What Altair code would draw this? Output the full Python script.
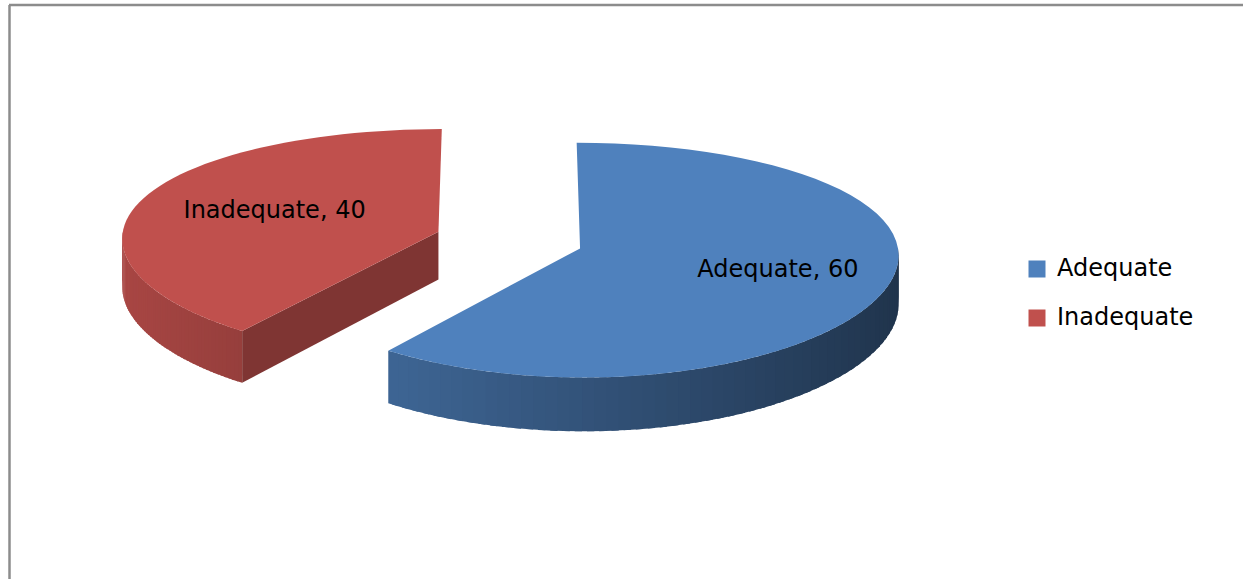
import altair as alt
import pandas as pd

# ---- data ----
categories = ["Adequate", "Inadequate"]
values = [60, 40]
colors = ["#4F81BD", "#C0504D"]

# ---- layout / projection parameters ----
W, H = 1243, 579
X0, Y0 = 509, 240      # screen position of the un-exploded pie centre
RX, RY = 316.8, 114.5  # ellipse radii
KX, KY = 0.05, 0.1     # perspective strength (horizontal / vertical)
D = 48                 # thickness of the pie
E = 0.235              # explosion (fraction of radius)
N = 60                 # samples along arcs
LABEL_R = 0.6
LABEL_DX = 14
FONT = "DejaVu Sans"


def hex_rgb(h):
    h = h.lstrip("#")
    return [int(h[i:i + 2], 16) for i in (0, 2, 4)]


rgb = [hex_rgb(c) for c in colors]
df = pd.DataFrame({
    "category": categories,
    "value": values,
    "ord": list(range(len(categories))),
    "r": [c[0] for c in rgb],
    "g": [c[1] for c in rgb],
    "b": [c[2] for c in rgb],
    "topcol": colors,
})


def X_expr(u, v):
    return f"{X0} + {RX}*({u})/(1 + {KX}*({v}))"


def Y_expr(v, h):
    return f"{Y0} + (-{RY}*({v}) + {D}*({h}))/(1 + {KY}*({v}))"


def shade_expr(f):
    return ("'rgb(' + round(datum.r*(" + f + ")) + ',' + round(datum.g*(" + f +
            ")) + ',' + round(datum.b*(" + f + ")) + ')'")


xenc = alt.X("X:Q", scale=alt.Scale(domain=[0, W], nice=False, zero=False), axis=None)
yenc = alt.Y("Y:Q", scale=alt.Scale(domain=[0, H], nice=False, zero=False, reverse=True), axis=None)


def base():
    return (
        alt.Chart(df)
        .transform_joinaggregate(total="sum(value)")
        .transform_window(cum="sum(value)", sort=[alt.SortField("ord")], frame=[None, 0])
        .transform_calculate(a0="2*PI*(datum.cum - datum.value)/datum.total")
        .transform_calculate(a1="2*PI*datum.cum/datum.total")
        .transform_calculate(am="(datum.a0 + datum.a1)/2")
        .transform_calculate(ex=f"{E}*sin(datum.am)")
        .transform_calculate(ey=f"{E}*cos(datum.am)")
    )


# curved outer wall, drawn as thin shaded strips
wall = (
    base()
    .transform_calculate(w0="max(datum.a0, PI/2)")
    .transform_calculate(w1="min(datum.a1, 3*PI/2)")
    .transform_filter("datum.w1 > datum.w0")
    .transform_calculate(s=f"sequence(0, {N})")
    .transform_flatten(["s"])
    .transform_calculate(c="sequence(0, 4)")
    .transform_flatten(["c"])
    .transform_calculate(tA=f"datum.w0 + (datum.w1 - datum.w0)*datum.s/{N}")
    .transform_calculate(tB=f"min(datum.w1, datum.w0 + (datum.w1 - datum.w0)*(datum.s + 1.6)/{N})")
    .transform_calculate(t="(datum.c == 0 || datum.c == 3) ? datum.tA : datum.tB")
    .transform_calculate(h="datum.c >= 2 ? 1 : 0")
    .transform_calculate(tm="(datum.tA + datum.tB)/2")
    .transform_calculate(f="0.64 - 0.24*sin(datum.tm)")
    .transform_calculate(wc=shade_expr("datum.f"))
    .transform_calculate(u="datum.ex + sin(datum.t)")
    .transform_calculate(v="datum.ey + cos(datum.t)")
    .transform_calculate(X=X_expr("datum.u", "datum.v"))
    .transform_calculate(Y=Y_expr("datum.v", "datum.h"))
    .transform_calculate(key="datum.category + '-' + datum.s")
    .mark_line(filled=True, strokeWidth=0)
    .encode(x=xenc, y=yenc, order=alt.Order("c:Q"), detail="key:N",
            fill=alt.Fill("wc:N", scale=None))
)

# radial cut face (visible for the slice whose start edge faces the viewer)
face = (
    base()
    .transform_filter("sin(datum.a0) < -0.01")
    .transform_calculate(c="sequence(0, 4)")
    .transform_flatten(["c"])
    .transform_calculate(rr="(datum.c == 1 || datum.c == 2) ? 1 : 0")
    .transform_calculate(h="datum.c >= 2 ? 1 : 0")
    .transform_calculate(u="datum.ex + datum.rr*sin(datum.a0)")
    .transform_calculate(v="datum.ey + datum.rr*cos(datum.a0)")
    .transform_calculate(X=X_expr("datum.u", "datum.v"))
    .transform_calculate(Y=Y_expr("datum.v", "datum.h"))
    .transform_calculate(fc=shade_expr("0.66"))
    .mark_line(filled=True, strokeWidth=0)
    .encode(x=xenc, y=yenc, order=alt.Order("c:Q"), detail="category:N",
            fill=alt.Fill("fc:N", scale=None))
)

# top surface
top = (
    base()
    .transform_calculate(k=f"sequence(0, {N + 2})")
    .transform_flatten(["k"])
    .transform_calculate(t=f"datum.a0 + (datum.a1 - datum.a0)*(datum.k - 1)/{N}")
    .transform_calculate(rr="datum.k == 0 ? 0 : 1")
    .transform_calculate(u="datum.ex + datum.rr*sin(datum.t)")
    .transform_calculate(v="datum.ey + datum.rr*cos(datum.t)")
    .transform_calculate(X=X_expr("datum.u", "datum.v"))
    .transform_calculate(Y=Y_expr("datum.v", "0"))
    .mark_line(filled=True, strokeWidth=0)
    .encode(x=xenc, y=yenc, order=alt.Order("k:Q"), detail="category:N",
            fill=alt.Fill("topcol:N", scale=None))
)

labels = (
    base()
    .transform_calculate(u=f"datum.ex + {LABEL_R}*sin(datum.am)")
    .transform_calculate(v=f"datum.ey + {LABEL_R}*cos(datum.am)")
    .transform_calculate(X=X_expr("datum.u", "datum.v"))
    .transform_calculate(Y=Y_expr("datum.v", "0"))
    .transform_calculate(lab="datum.category + ', ' + datum.value")
    .mark_text(font=FONT, fontSize=24, color="#000000", dx=LABEL_DX)
    .encode(x=xenc, y=yenc, text="lab:N")
)

legend_layer = (
    alt.Chart(df)
    .transform_filter("false")
    .mark_square(size=289, opacity=1)
    .encode(color=alt.Color(
        "category:N",
        scale=alt.Scale(domain=categories, range=colors),
        legend=alt.Legend(
            title=None, orient="none", legendX=1025, legendY=257,
            symbolType="square", symbolSize=289, symbolStrokeWidth=0,
            labelFont=FONT, labelFontSize=24, labelColor="#000000",
            labelOffset=8, rowPadding=25, padding=0,
        ),
    ))
)

frame_df = pd.DataFrame({"a": [0]})
border_top = alt.Chart(frame_df).mark_rule(color="#8c8c8c", strokeWidth=2.5).encode(
    x=alt.value(9), x2=alt.value(W), y=alt.value(5))
border_left = alt.Chart(frame_df).mark_rule(color="#8c8c8c", strokeWidth=2.5).encode(
    x=alt.value(9.5), y=alt.value(5), y2=alt.value(H))

chart = (
    alt.layer(border_top, border_left, wall, face, top, labels, legend_layer)
    .properties(width=W, height=H, autosize=alt.AutoSizeParams(type="none"), padding=0,
                background="white")
    .configure_view(stroke=None)
)

chart.save("out.html", embed_options={"renderer": "svg", "actions": False})
